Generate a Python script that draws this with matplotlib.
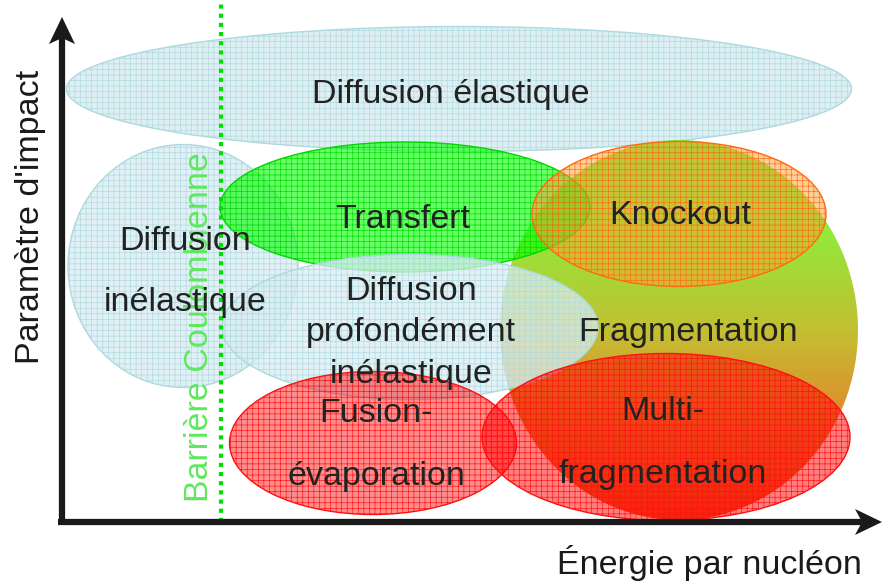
import numpy as np
import matplotlib.pyplot as plt
from matplotlib.patches import Ellipse, Polygon
from matplotlib.colors import LinearSegmentedColormap

plt.rcParams['font.family'] = ['Liberation Sans', 'DejaVu Sans']
plt.rcParams['hatch.linewidth'] = 0.45

# Regimes de reaction (energie, parametre d'impact) : centre, largeur, hauteur
regimes = ['elastique', 'inelastique', 'transfert', 'profond', 'knockout', 'fusion', 'multi']
centre_x = [397, 121, 343, 348, 617, 311, 604]
centre_y = [433, 256, 315, 195, 308, 79, 85]
largeur = [785, 230, 370, 376, 294, 287, 368]
hauteur = [125, 243, 130, 145, 145, 143, 167]

# Fragmentation (degrade)
frag_centre = (617, 192)
frag_taille = (358, 380)

barriere_x = 159

labels = ['Diffusion élastique', 'Diffusion\n\ninélastique', 'Transfert',
          'Diffusion\nprofondément\ninélastique', 'Knockout',
          'Fusion-\n\névaporation', 'Multi-\n\nfragmentation', 'Fragmentation']
label_x = [389, 123, 341, 349, 618, 314, 601, 626]
label_y = [428, 250, 303, 189, 306, 77, 79, 189]

styles = {
    'elastique': ((0.85, 0.93, 0.95, 0.85), '#add9df'),
    'inelastique': ((0.85, 0.93, 0.95, 0.8), '#add9df'),
    'transfert': ((0.0, 1.0, 0.0, 0.6), '#00d800'),
    'profond': ((0.85, 0.93, 0.95, 0.75), '#add9df'),
    'knockout': ((1.0, 0.62, 0.2, 0.5), '#ff6a10'),
    'fusion': ((1.0, 0.0, 0.0, 0.45), '#ff1010'),
    'multi': ((1.0, 0.0, 0.0, 0.5), '#ff1010'),
}

fig = plt.figure(figsize=(8.82, 5.84), dpi=100)
ax = fig.add_axes([0, 0, 1, 1])
ax.set_xlim(-62, 820)
ax.set_ylim(-62, 522)
ax.axis('off')


def ellipse(i, z):
    face, edge = styles[regimes[i]]
    e = Ellipse((centre_x[i], centre_y[i]), largeur[i], hauteur[i],
                facecolor=face, edgecolor=edge, hatch='+++', lw=1.0, zorder=z)
    ax.add_patch(e)


ellipse(0, 2)
ellipse(1, 2)

# Fragmentation : degrade vert -> orange -> rouge
cmap = LinearSegmentedColormap.from_list(
    'frag', [(0.0, '#f03c12'), (0.24, '#e07a1f'), (0.32, '#d89020'),
             (0.5, '#c0bc28'), (0.76, '#8ce830'), (1.0, '#70f030')])
frag = Ellipse(frag_centre, frag_taille[0], frag_taille[1], facecolor='none',
               edgecolor='none', zorder=3)
ax.add_patch(frag)
grad = np.linspace(0, 1, 256).reshape(-1, 1)
fx, fy = frag_centre
fw, fh = frag_taille
im = ax.imshow(grad, cmap=cmap, origin='lower', aspect='auto',
               extent=[fx - fw / 2, fx + fw / 2, fy - fh / 2, fy + fh / 2],
               zorder=3, alpha=0.95)
im.set_clip_path(frag)

ellipse(2, 4)
ellipse(3, 5)
ellipse(4, 6)
ellipse(5, 6)
ellipse(6, 6)

# Barriere coulombienne
ax.plot([barriere_x, barriere_x], [0, 520], color='#00e000', lw=3,
        linestyle=(0, (1, 1.2)), zorder=7)
ax.text(barriere_x - 22, 195, 'Barrière Coulombienne', rotation=90,
        color='#5ee85e', fontsize=24.5, ha='center', va='center', zorder=8)

# Axes (fleches)
noir = '#1a1a1a'
ax.plot([0, 0], [-3, 490], color=noir, lw=4.5, solid_capstyle='butt', zorder=9)
ax.plot([-4, 805], [0, 0], color=noir, lw=4.5, solid_capstyle='butt', zorder=9)
ax.add_patch(Polygon([(0, 505), (-13, 478), (0, 484), (13, 478)],
                     closed=True, color=noir, lw=0, zorder=9))
ax.add_patch(Polygon([(820, 0), (793, 13), (800, 0), (793, -13)],
                     closed=True, color=noir, lw=0, zorder=9))

ax.text(-31, 305, "Paramètre d'impact", rotation=90, fontsize=24.5,
        color=noir, ha='center', va='center')
ax.text(647, -41, 'Énergie par nucléon', fontsize=24.5, color=noir,
        ha='center', va='center')

for lab, x, y in zip(labels, label_x, label_y):
    ax.text(x, y, lab, fontsize=24.5, color='#222222', ha='center',
            va='center', linespacing=1.43 if 'profond' in lab else 1.0,
            zorder=10)

fig.savefig('out.png', dpi=100)
